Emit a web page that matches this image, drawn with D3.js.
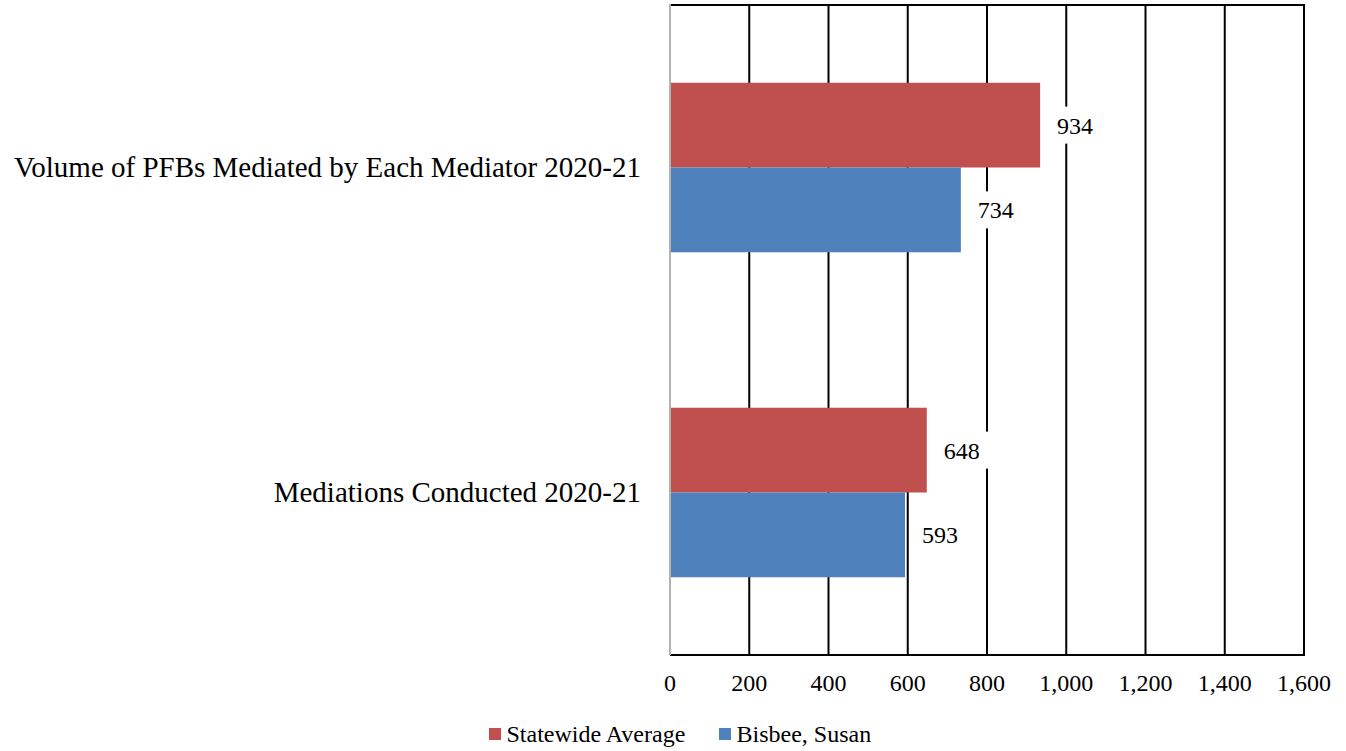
<!DOCTYPE html>
<html>
<head>
<meta charset="utf-8">
<script src="https://cdn.jsdelivr.net/npm/d3@7"></script>
<style>
  html, body { margin: 0; padding: 0; background: #fff; }
  svg { display: block; }
</style>
</head>
<body>
<svg id="chart" width="1346" height="751"></svg>
<script>
// Chart data
const categories = [
  "Volume of PFBs Mediated by Each Mediator 2020-21",
  "Mediations Conducted 2020-21"
];
const seriesNames = ["Statewide Average", "Bisbee, Susan"];
const statewideValues = [934, 648];
const bisbeeValues = [734, 593];
const tickValues = [0, 200, 400, 600, 800, 1000, 1200, 1400, 1600];
const seriesColors = ["#C0504D", "#4F81BD"];

const seriesValues = [statewideValues, bisbeeValues];
const FONT = "'Times New Roman', 'Liberation Serif', Tinos, 'DejaVu Serif', serif";

const svg = d3.select("#chart").attr("font-family", FONT);
const plot = { left: 670, right: 1304, top: 5, bottom: 655 };

const x = d3.scaleLinear().domain([0, 1600]).range([plot.left, plot.right]);
const y = d3.scaleBand().domain(categories).range([plot.top, plot.bottom]).padding(0);
const ySeries = d3.scaleBand().domain(seriesNames)
  .range([0, y.bandwidth()]).paddingInner(0).paddingOuter(0.917);

// Vertical gridlines
svg.append("g").selectAll("line")
  .data(tickValues.filter(v => v > 0))
  .join("line")
  .attr("x1", d => x(d)).attr("x2", d => x(d))
  .attr("y1", plot.top).attr("y2", plot.bottom)
  .attr("stroke", "#000").attr("stroke-width", 2);

// Top border
svg.append("line")
  .attr("x1", plot.left).attr("x2", plot.right + 1)
  .attr("y1", plot.top).attr("y2", plot.top)
  .attr("stroke", "#000").attr("stroke-width", 2);

// Bars
const rows = [];
categories.forEach((c, ci) => {
  seriesNames.forEach((s, si) => {
    rows.push({ cat: c, series: s, value: seriesValues[si][ci], color: seriesColors[si] });
  });
});

svg.append("g").selectAll("rect")
  .data(rows)
  .join("rect")
  .attr("x", x(0))
  .attr("y", d => y(d.cat) + ySeries(d.series))
  .attr("width", d => x(d.value) - x(0))
  .attr("height", ySeries.bandwidth())
  .attr("fill", d => d.color);

// Bottom axis line
svg.append("line")
  .attr("x1", plot.left).attr("x2", plot.right + 1)
  .attr("y1", plot.bottom).attr("y2", plot.bottom)
  .attr("stroke", "#000").attr("stroke-width", 2);

// Left axis line
svg.append("line")
  .attr("x1", plot.left).attr("x2", plot.left)
  .attr("y1", plot.top - 1).attr("y2", plot.bottom)
  .attr("stroke", "#b3b3b3").attr("stroke-width", 2);

// Value labels with white backing
const labels = svg.append("g").selectAll("g")
  .data(rows)
  .join("g")
  .attr("transform", d => `translate(${x(d.value) + 17},${y(d.cat) + ySeries(d.series) + ySeries.bandwidth() / 2})`);

labels.append("text")
  .attr("x", 0).attr("y", 8.5)
  .attr("font-size", 24)
  .attr("fill", "#000")
  .text(d => d3.format(",")(d.value));

labels.each(function () {
  const g = d3.select(this);
  const w = g.select("text").node().getComputedTextLength();
  g.insert("rect", "text")
    .attr("x", -10).attr("y", -18.5)
    .attr("width", w + 20).attr("height", 37)
    .attr("fill", "#fff");
});

// X tick labels
svg.append("g").selectAll("text")
  .data(tickValues)
  .join("text")
  .attr("x", d => x(d))
  .attr("y", 691)
  .attr("text-anchor", "middle")
  .attr("font-size", 24)
  .attr("fill", "#000")
  .text(d => d3.format(",")(d));

// Category labels
svg.append("g").selectAll("text")
  .data(categories)
  .join("text")
  .attr("x", 641)
  .attr("y", d => y(d) + y.bandwidth() / 2 + 9.5)
  .attr("text-anchor", "end")
  .attr("font-size", 29)
  .attr("fill", "#000")
  .text(d => d);

// Legend
const legendItems = [
  { name: seriesNames[0], color: seriesColors[0], x: 489 },
  { name: seriesNames[1], color: seriesColors[1], x: 719 }
];
const legend = svg.append("g").selectAll("g")
  .data(legendItems)
  .join("g")
  .attr("transform", d => `translate(${d.x},728)`);
legend.append("rect")
  .attr("width", 12).attr("height", 12)
  .attr("fill", d => d.color);
legend.append("text")
  .attr("x", 17.5).attr("y", 14)
  .attr("font-size", 24)
  .attr("fill", "#000")
  .text(d => d.name);
</script>
</body>
</html>
